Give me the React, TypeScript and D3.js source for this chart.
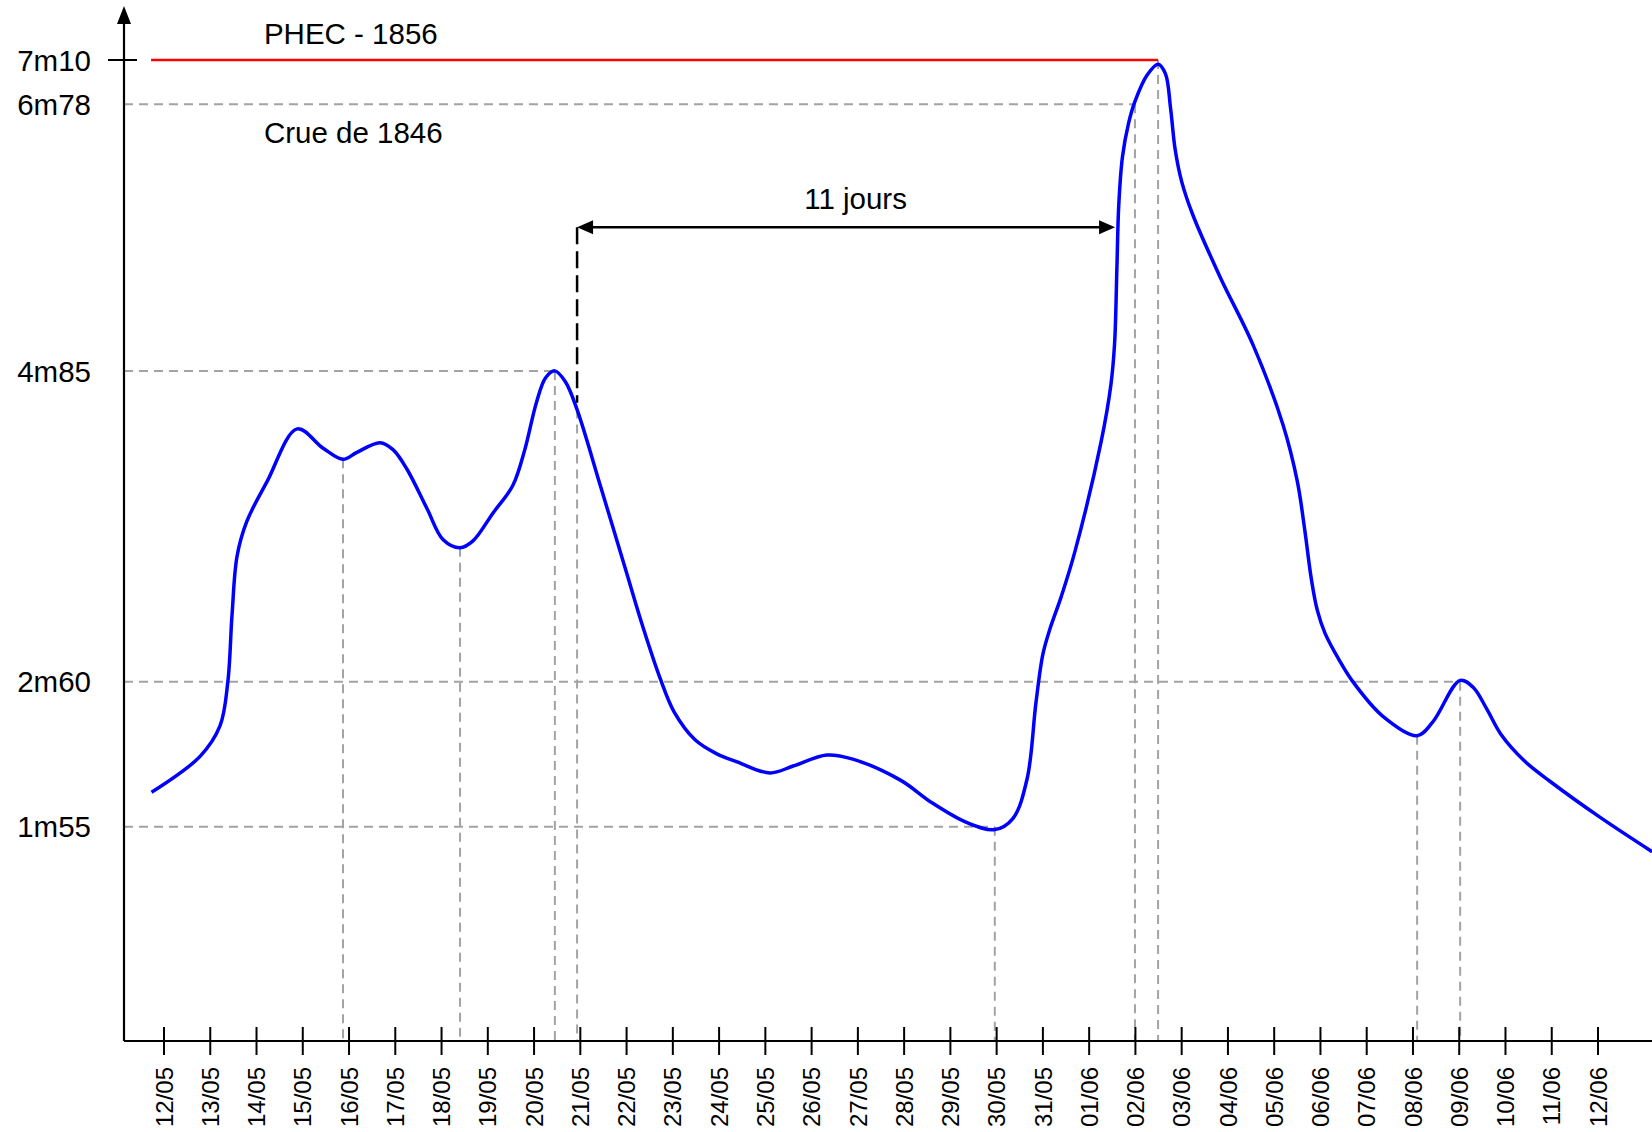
import * as d3 from "d3";

// jours depuis le 12/05 (0) et hauteur d'eau en mètres
const days = [
  -0.27, 0.78, 1.21, 1.38, 1.47, 1.58, 1.79, 2.23, 2.88, 3.44, 3.87, 4.17, 4.67, 4.95,
  5.25, 5.69, 6.03, 6.4, 6.68, 7.11, 7.54, 7.8, 8.05, 8.25, 8.45, 8.68, 8.93, 9.45,
  9.99, 10.35, 10.72, 11.03, 11.48, 11.94, 12.39, 13.1, 13.6, 14.33, 14.89, 15.91, 16.62,
  17.36, 17.96, 18.35, 18.66, 18.85, 19.0, 19.15, 19.4, 19.69, 20.26, 20.47, 20.55, 20.6,
  20.64, 20.72, 20.85, 20.99, 21.25, 21.49, 21.65, 21.76, 21.86, 22.0, 22.24, 22.83,
  23.54, 24.19, 24.5, 24.66, 24.8, 24.93, 25.1, 25.4, 25.68, 26.35, 27.09, 27.43, 28.02,
  28.3, 28.6, 28.9, 29.4, 29.96, 31.04, 32.17,
];
const levels = [
  1.8, 2.06, 2.28, 2.6, 3.08, 3.51, 3.76, 4.05, 4.43, 4.29, 4.21, 4.26, 4.33, 4.28,
  4.14, 3.85, 3.63, 3.57, 3.62, 3.82, 4.02, 4.28, 4.62, 4.8, 4.85, 4.77, 4.57, 4.0,
  3.4, 3.0, 2.63, 2.38, 2.18, 2.08, 2.02, 1.94, 1.99, 2.07, 2.04, 1.89, 1.72,
  1.58, 1.53, 1.61, 1.9, 2.45, 2.8, 2.98, 3.22, 3.54, 4.34, 4.75, 5.05, 5.6,
  6.05, 6.4, 6.64, 6.8, 6.99, 7.07, 7.0, 6.75, 6.45, 6.22, 5.98, 5.53,
  5.04, 4.46, 4.05, 3.7, 3.35, 3.12, 2.95, 2.76, 2.61, 2.35, 2.21, 2.31, 2.61,
  2.56, 2.4, 2.22, 2.03, 1.88, 1.62, 1.37,
];

const dateLabels = [
  "12/05", "13/05", "14/05", "15/05", "16/05", "17/05", "18/05", "19/05", "20/05",
  "21/05", "22/05", "23/05", "24/05", "25/05", "26/05", "27/05", "28/05", "29/05",
  "30/05", "31/05", "01/06", "02/06", "03/06", "04/06", "05/06", "06/06", "07/06",
  "08/06", "09/06", "10/06", "11/06", "12/06",
];

// repères : niveau, libellé, jour où la ligne pointillée rejoint la courbe
const markLevels = [7.1, 6.78, 4.85, 2.6, 1.55];
const markLabels = ["7m10", "6m78", "4m85", "2m60", "1m55"];
const markDays = [21.49, 20.99, 8.45, 28.02, 17.96];

// verticales seules (minima locaux, départ de la flèche)
const dropDays = [3.87, 6.4, 8.93, 27.09];
const dropLevels = [4.21, 3.57, 4.57, 2.21];

const phecStart = -0.28;
const arrowFrom = 8.93;
const arrowTo = 20.56;
const arrowLevel = 5.89;
const arrowDashEnd = 4.62;

const W = 1652;
const H = 1132;
const FONT = "'Liberation Sans', Arial, sans-serif";

export default function App() {
  const x = d3.scaleLinear().domain([0, 31]).range([164, 1598]);
  const y = d3.scaleLinear().domain([0, 7.1]).range([1041, 60]);
  const axisX = 124;
  const axisY = y(0);

  const pts: [number, number][] = days.map((d, i) => [d, levels[i]]);
  const line = d3
    .line<[number, number]>()
    .x((d) => x(d[0]))
    .y((d) => y(d[1]))
    .curve(d3.curveCatmullRom.alpha(0.5));

  const gray = "#a3a3a3";
  const dash = "9,6";

  const ay = y(arrowLevel);
  const ax1 = x(arrowFrom);
  const ax2 = x(arrowTo);

  return (
    <svg
      width={W}
      height={H}
      style={{ position: "absolute", left: 0, top: 0, background: "#fff" }}
      fontFamily={FONT}
    >
      {/* guides pointillés */}
      {markLevels.map((v, i) => (
        <g key={"m" + i} stroke={gray} strokeWidth={2} strokeDasharray={dash}>
          {i > 0 && <line x1={axisX} x2={x(markDays[i])} y1={y(v)} y2={y(v)} />}
          <line x1={x(markDays[i])} x2={x(markDays[i])} y1={y(v)} y2={axisY} />
        </g>
      ))}
      {dropDays.map((d, i) => (
        <line
          key={"d" + i}
          x1={x(d)}
          x2={x(d)}
          y1={y(dropLevels[i])}
          y2={axisY}
          stroke={gray}
          strokeWidth={2}
          strokeDasharray={dash}
        />
      ))}

      {/* PHEC 1856 */}
      <line
        x1={x(phecStart)}
        x2={x(markDays[0])}
        y1={y(7.1)}
        y2={y(7.1)}
        stroke="#ff0000"
        strokeWidth={2.5}
      />
      <text x={x(2.16)} y={y(7.1) - 16} fontSize={29.5}>
        PHEC - 1856
      </text>
      <text x={x(2.16)} y={y(6.78) + 39} fontSize={29.5}>
        Crue de 1846
      </text>

      {/* flèche 11 jours */}
      <line
        x1={ax1}
        x2={ax1}
        y1={ay}
        y2={y(arrowDashEnd)}
        stroke="#000"
        strokeWidth={2.5}
        strokeDasharray="17,7"
      />
      <line x1={ax1 + 12} x2={ax2 - 12} y1={ay} y2={ay} stroke="#000" strokeWidth={2.5} />
      <path d={`M${ax1},${ay}L${ax1 + 16},${ay - 7}L${ax1 + 16},${ay + 7}Z`} fill="#000" />
      <path d={`M${ax2},${ay}L${ax2 - 16},${ay - 7}L${ax2 - 16},${ay + 7}Z`} fill="#000" />
      <text x={x(14.95)} y={ay - 18} fontSize={29.5} textAnchor="middle">
        11 jours
      </text>

      {/* courbe */}
      <path d={line(pts) || ""} fill="none" stroke="#0000ff" strokeWidth={3.5} />

      {/* axes */}
      <line x1={axisX} x2={axisX} y1={20} y2={axisY} stroke="#000" strokeWidth={2.2} />
      <path d={`M${axisX},6L${axisX - 7},24L${axisX + 7},24Z`} fill="#000" />
      <line x1={axisX} x2={W} y1={axisY} y2={axisY} stroke="#000" strokeWidth={2.2} />
      <line x1={axisX - 16} x2={axisX + 13} y1={y(7.1)} y2={y(7.1)} stroke="#000" strokeWidth={2} />

      {markLevels.map((v, i) => (
        <text key={"yl" + i} x={91} y={y(v)} dy="0.36em" fontSize={29.5} textAnchor="end">
          {markLabels[i]}
        </text>
      ))}

      {dateLabels.map((lab, i) => (
        <g key={"xt" + i}>
          <line x1={x(i)} x2={x(i)} y1={axisY - 14} y2={axisY + 14} stroke="#000" strokeWidth={2} />
          <text
            transform={`translate(${x(i)},${axisY + 26}) rotate(-90)`}
            dy="0.36em"
            fontSize={24}
            textAnchor="end"
          >
            {lab}
          </text>
        </g>
      ))}
    </svg>
  );
}
